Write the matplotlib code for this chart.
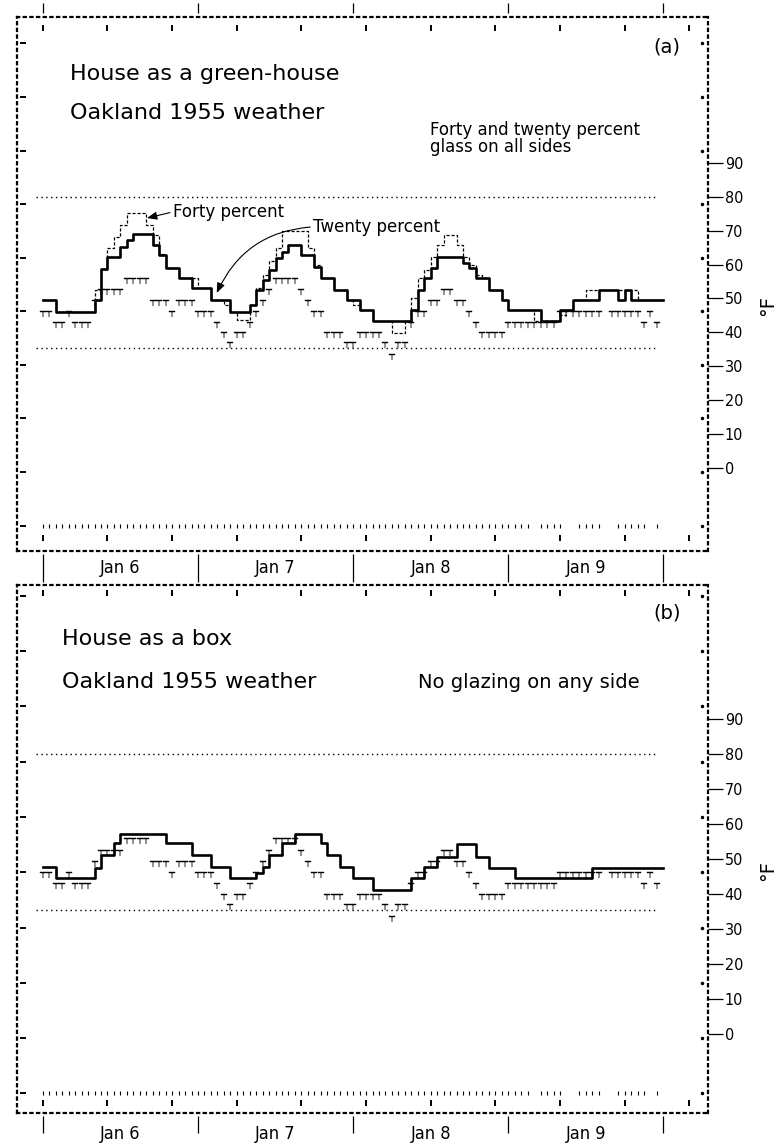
import matplotlib.pyplot as plt
import matplotlib.transforms as mtransforms
import numpy as np

plt.rcParams['font.family'] = ['DejaVu Sans']

# ---- data (hourly from Jan 6 00h) ----
hours = np.arange(96)
day_edges = [0, 24, 48, 72, 96]
day_labels = ['Jan 6', 'Jan 7', 'Jan 8', 'Jan 9']
temp_ticks = [0, 10, 20, 30, 40, 50, 60, 70, 80, 90]

# panel (a): twenty percent glass (heavy line)
twenty_pct = [49.6, 49.6, 46, 46, 46, 46, 46, 46, 49.6, 58.7,
              62.3, 62.3, 65.3, 67.3, 69, 69, 69, 65.8, 62.8, 58.9,
              58.9, 55.9, 55.9, 53, 53, 53, 49.6, 49.6, 49.6, 46,
              46, 46, 48, 52.6, 55.5, 58.4, 62, 63.8, 65.8, 65.8,
              62.8, 62.8, 59.4, 55.9, 55.9, 52.6, 52.6, 49.6, 49.6, 46.6,
              46.6, 43.2, 43.2, 43.2, 43.2, 43.2, 43.2, 46.6, 52.6, 55.9,
              58.9, 62.3, 62.3, 62.3, 62.3, 60.5, 59, 55.9, 55.9, 52.6,
              52.6, 49.6, 46.6, 46.6, 46.6, 46.6, 46.6, 43.2, 43.2, 43.2,
              46.6, 46.6, 49.6, 49.6, 49.6, 49.6, 52.6, 52.6, 52.6, 49.6,
              52.6, 49.6, 49.6, 49.6, 49.6, 49.6]

# panel (a): forty percent glass (dashed line)
forty_pct = [49.6, 49.6, 46, 46, 46, 46, 46, 46, 52.6, 58.7,
             64.8, 68.2, 71.7, 75.1, 75.1, 75.1, 71.7, 68.7, 63, 58.9,
             58.9, 55.9, 55.9, 55.9, 53, 53, 49.6, 49.6, 48, 46,
             43.7, 43.7, 48, 53, 57, 61, 64.8, 70, 70, 70,
             70, 65, 60, 56, 55.9, 52.6, 52.6, 49.6, 48, 46.6,
             46.6, 43.2, 43.2, 43.2, 39.8, 39.8, 43.2, 50, 55.9, 58.4,
             62.3, 65.8, 68.7, 68.7, 65.8, 62.3, 60, 57, 55.9, 52.6,
             52.6, 49.6, 46.6, 46.6, 46.6, 46.6, 43.2, 43.2, 43.2, 43.2,
             45, 46.6, 49.6, 49.6, 52.6, 52.6, 52.6, 52.6, 52.6, 52.6,
             52.6, 52.6, 49.6, 49.6, 49.6, 49.6]

# panel (b): no glazing
no_glass = [47.8, 47.8, 44.6, 44.6, 44.6, 44.6, 44.6, 44.6, 47.3, 51.1,
            51.1, 54.5, 57.1, 57.1, 57.1, 57.1, 57.1, 57.1, 57.1, 54.5,
            54.5, 54.5, 54.5, 51.1, 51.1, 51.1, 47.8, 47.8, 47.8, 44.6,
            44.6, 44.6, 44.6, 46, 47.8, 51.1, 51.1, 54.5, 54.5, 57.1,
            57.1, 57.1, 57.1, 54.5, 51.1, 51.1, 47.8, 47.8, 44.6, 44.6,
            44.6, 41.1, 41.1, 41.1, 41.1, 41.1, 41.1, 44.6, 44.6, 47.8,
            47.8, 50.7, 50.7, 50.7, 54.2, 54.2, 54.2, 50.7, 50.7, 47.3,
            47.3, 47.3, 47.3, 44.6, 44.6, 44.6, 44.6, 44.6, 44.6, 44.6,
            44.6, 44.6, 44.6, 44.6, 44.6, 47.3, 47.3, 47.3, 47.3, 47.3,
            47.3, 47.3, 47.3, 47.3, 47.3, 47.3]

# outdoor air (printed "T" marks), same weather in both panels
outdoor = [45.3, 45.3, 42.2, 42.2, 45.3, 42.2, 42.2, 42.2, 48.6, 51.8,
           51.8, 51.8, 51.8, 55, 55, 55, 55, 48.6, 48.6, 48.6,
           45.3, 48.6, 48.6, 48.6, 45.3, 45.3, 45.3, 42.2, 39.1, 36.2,
           39.1, 39.1, 42.2, 45.3, 48.6, 51.8, 55, 55, 55, 55,
           51.8, 48.6, 45.3, 45.3, 39.1, 39.1, 39.1, 36.2, 36.2, 39.1,
           39.1, 39.1, 39.1, 36.2, 32.8, 36.2, 36.2, 42.2, 45.3, 45.3,
           48.6, 48.6, 51.8, 51.8, 48.6, 48.6, 45.3, 42.2, 39.1, 39.1,
           39.1, 39.1, 42.2, 42.2, 42.2, 42.2, 42.2, 42.2, 42.2, 42.2,
           45.3, 45.3, 45.3, 45.3, 45.3, 45.3, 45.3, np.nan, 45.3, 45.3,
           45.3, 45.3, 45.3, 42.2, 45.3, 42.2]

# bottom row of printed marks (hours where a character appears)
row_hours = list(range(0, 76)) + [77, 78, 79, 80, 83, 84, 85, 86, 89, 90, 91, 92, 93, 95]
row_level = -17
comfort_hi, comfort_lo = 80, 35.5

# ---- layout in pixels ----
W, H = 779, 1146
fig = plt.figure(figsize=(W / 100, H / 100), dpi=100)
XLIM = (-4.0, 102.9)
NARROW = dict(family='DejaVu Sans', fontstretch='condensed')


def px_axes(x0, y0, x1, y1):
    return fig.add_axes([x0 / W, 1 - y1 / H, (x1 - x0) / W, (y1 - y0) / H])


def steps(ax, vals, **kw):
    ax.step(np.append(hours, hours[-1] + 1), np.append(vals, vals[-1]), where='post', **kw)


def panel(ax, ylim, top_mark, bot_mark):
    ax.set_xlim(*XLIM)
    ax.set_ylim(*ylim)
    for s in ax.spines.values():
        s.set_linestyle((0, (1, 2)))
        s.set_linewidth(1.6)
    ax.set_xticks([])
    ax.yaxis.tick_right()
    ax.set_yticks(temp_ticks)
    ax.set_yticklabels([str(t) for t in temp_ticks], fontsize=11.5, **NARROW)
    ax.tick_params(axis='y', direction='out', length=11, width=0.9, pad=1)

    tx = mtransforms.blended_transform_factory(ax.transData, ax.transAxes)
    ty = mtransforms.blended_transform_factory(ax.transAxes, ax.transData)
    marks = np.arange(0, 101, 10)
    for yy in (top_mark, bot_mark):
        ax.plot(marks, np.full(len(marks), yy), ls='none', marker='|', ms=4,
                mew=1.4, color='k', transform=tx, clip_on=False)
    side = np.arange(row_level, ylim[1], 15.8)
    ax.plot(np.full(len(side), 0.009), side, ls='none', marker='_', ms=5, mew=1.4,
            color='k', transform=ty)
    ax.plot(np.full(len(side), 0.991), side, ls='none', marker='.', ms=3,
            color='k', transform=ty)

    ax.hlines([comfort_hi, comfort_lo], hours[0] - 1, hours[-1], colors='k',
              linestyles=(0, (1, 2.5)), lw=1.0)
    ax.plot(row_hours, np.full(len(row_hours), row_level), ls='none', marker='|',
            ms=3.5, mew=0.8, color='k')
    ax.plot(hours, outdoor, ls='none', marker=r'$\top$', ms=4, mew=0.3, color='k')
    ax.text(1.087, 0.46, '°F', transform=ax.transAxes, rotation=90,
            ha='center', va='center', fontsize=14)


# panel (a)
ax_a = px_axes(17, 17, 708, 551)
panel(ax_a, (-24.5, 133.0), 0.979, 0.024)
steps(ax_a, forty_pct, color='k', lw=0.9, ls=(0, (2.5, 1.5)))
steps(ax_a, twenty_pct, color='k', lw=1.9)
ax_a.text(0.0767, 0.882, 'House as a green-house', transform=ax_a.transAxes, fontsize=16)
ax_a.text(0.0767, 0.809, 'Oakland 1955 weather', transform=ax_a.transAxes, fontsize=16)
ax_a.text(0.598, 0.806, 'Forty and twenty percent\nglass on all sides',
          transform=ax_a.transAxes, fontsize=12, va='top', linespacing=0.95)
ax_a.text(0.941, 0.944, '(a)', transform=ax_a.transAxes, fontsize=14, ha='center', va='center')
ax_a.annotate('Forty percent', xy=(16.1, 73.7), xytext=(20.1, 75.5), fontsize=12,
              va='center', ha='left',
              arrowprops=dict(arrowstyle='-|>,head_length=0.5,head_width=0.2', color='k',
                              lw=0.8, shrinkA=0, shrinkB=0, relpos=(0, 0.5)))
ax_a.annotate('Twenty percent', xy=(26.9, 51.6), xytext=(41.8, 71.1), fontsize=12,
              va='center', ha='left',
              arrowprops=dict(arrowstyle='-|>,head_length=0.5,head_width=0.2', color='k',
                              lw=0.8, shrinkA=0, shrinkB=0, relpos=(0, 0.5),
                              connectionstyle='arc3,rad=0.3'))

# panel (b)
ax_b = px_axes(17, 585, 708, 1113)
panel(ax_b, (-22.6, 128.3), 0.985, 0.019)
steps(ax_b, no_glass, color='k', lw=1.9)
ax_b.text(0.0651, 0.886, 'House as a box', transform=ax_b.transAxes, fontsize=16)
ax_b.text(0.0651, 0.805, 'Oakland 1955 weather', transform=ax_b.transAxes, fontsize=16)
ax_b.text(0.580, 0.805, 'No glazing on any side', transform=ax_b.transAxes, fontsize=14)
ax_b.text(0.941, 0.947, '(b)', transform=ax_b.transAxes, fontsize=14, ha='center', va='center')

# date strips
day_mid = [(a + b) / 2 for a, b in zip(day_edges[:-1], day_edges[1:])]
for (y0, y1), (l0, l1), lab_y in [((0, 17), (0.24, 0.82), None),
                                  ((551, 585), (0.1, 0.9), 0.5),
                                  ((1113, 1146), (0.4, 0.9), 0.36)]:
    s = px_axes(17, y0, 708, y1)
    s.set_xlim(*XLIM)
    s.set_ylim(0, 1)
    s.axis('off')
    s.vlines(day_edges, l0, l1, colors='k', lw=0.9)
    if lab_y is not None:
        for xm, lab in zip(day_mid, day_labels):
            s.text(xm, lab_y, lab, ha='center', va='center', fontsize=13, **NARROW)

fig.savefig('out.png', dpi=100, facecolor='white')
